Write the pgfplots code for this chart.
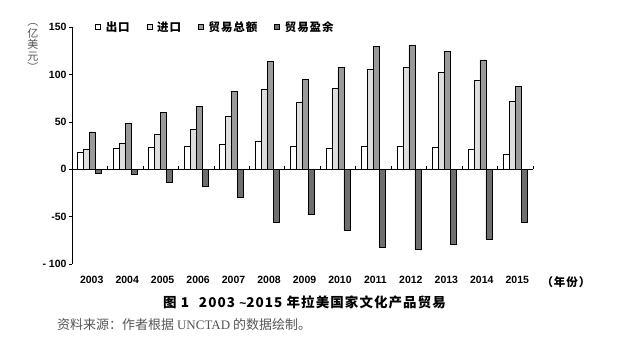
\documentclass[border=0pt]{standalone}
\usepackage{pgfplots}
\pgfplotsset{compat=1.18}
\usepackage{fontspec}
\setmainfont{Liberation Sans}
\newfontfamily\cjk{Noto Sans CJK SC}
\newfontfamily\cjksp[LetterSpace=8]{Noto Sans CJK SC}
\newfontfamily\serifen{Liberation Serif}
\definecolor{cimp}{HTML}{DEDEDE}
\definecolor{ctot}{HTML}{9A9A9A}
\definecolor{csur}{HTML}{6E6E6E}
\definecolor{txtgray}{HTML}{555555}
\pgfplotsset{
  mybar/.style={ybar, bar width=6pt, draw=black, line width=0.6pt,
    legend image code/.code={\draw[##1, line width=0.5pt] (0pt,-2.5pt) rectangle (5pt,2.5pt);}},
}
\begin{document}
\begin{tikzpicture}[x=1pt,y=1pt]
\path[use as bounding box] (-72,-98) rectangle (564,264);
\begin{axis}[
  at={(0,0)}, anchor=south west,
  width=461pt, height=237pt, scale only axis,
  xmin=-0.5, xmax=12.5, ymin=-100, ymax=150,
  axis lines*=left,
  x axis line style={draw=none},
  y axis line style={line width=0.8pt},
  xtick={0,...,12},
  xticklabels={2003,2004,2005,2006,2007,2008,2009,2010,2011,2012,2013,2014,2015},
  major x tick style={draw=none},
  ytick={-100,-50,0,50,100,150},
  yticklabels={- 100,-50,0,50,100,150},
  tick align=outside,
  major tick length=3pt,
  tick style={line width=0.6pt, black},
  /pgf/number format/assume math mode=true,
  ticklabel style={font=\bfseries\fontsize{10.5}{12}\selectfont},
  xticklabel style={yshift=-6pt, xshift=2pt},
  yticklabel style={xshift=1pt},
  legend columns=4,
  legend style={draw=none, fill=none, at={(axis description cs:0.05,1)}, anchor=west,
    font=\cjksp\bfseries\fontsize{11.5}{13}\selectfont, inner sep=0pt,
    /tikz/every odd column/.append style={column sep=3pt},
    /tikz/every even column/.append style={column sep=15pt}},
  clip=false,
]
\addplot[mybar, bar shift=-9pt, fill=white] coordinates {
(0,18) (1,22) (2,23.5) (3,24.3) (4,26.4) (5,29.2) (6,24) (7,21.8) (8,24.3) (9,24) (10,23.2) (11,21.1) (12,15.8)};
\addplot[mybar, bar shift=-3pt, fill=cimp] coordinates {
(0,21) (1,27) (2,37) (3,42.2) (4,55.6) (5,84) (6,70.4) (7,85.2) (8,105.6) (9,107.4) (10,101.7) (11,93.7) (12,71.5)};
\addplot[mybar, bar shift=3pt, fill=ctot] coordinates {
(0,39.4) (1,48.6) (2,60.2) (3,66.5) (4,82) (5,113.3) (6,94.7) (7,107.4) (8,129.6) (9,131) (10,124.6) (11,115.4) (12,87.3)};
\addplot[mybar, bar shift=9pt, fill=csur] coordinates {
(0,-4) (1,-5.5) (2,-14) (3,-18) (4,-29.6) (5,-55.6) (6,-47.6) (7,-64.4) (8,-82) (9,-84) (10,-79.5) (11,-73.6) (12,-56.3)};
\legend{出口,进口,贸易总额,贸易盈余}
\draw[line width=0.8pt] (axis cs:-0.5,0) -- (axis cs:12.5,0);
\pgfplotsinvokeforeach{-0.5,0.5,...,12.5}{\draw[line width=0.6pt] (axis cs:#1,0) -- ([yshift=3pt]axis cs:#1,0);}
\end{axis}
\node[anchor=west, font=\cjksp\bfseries\fontsize{11.5}{13}\selectfont] at (466,-18) {（年份）};
\node[font=\cjk\fontsize{11}{11.5}\selectfont, text=txtgray, align=center, inner sep=0pt] at (-39,216.5) {︵\\亿\\美\\元\\︶};
\node[font=\cjksp\bfseries\fontsize{13.5}{15}\selectfont] at (232.5,-38) {图 1\hspace{10pt}2003 {\fontspec{Liberation Sans}\fontsize{12}{14}\selectfont\symbol{126}}2015 年拉美国家文化产品贸易};
\node[anchor=west, font=\cjk\fontsize{13}{14}\selectfont, text=txtgray, inner sep=0pt] at (-15,-61) {资料来源：作者根据 {\serifen UNCTAD} 的数据绘制。};
\end{tikzpicture}
\end{document}
